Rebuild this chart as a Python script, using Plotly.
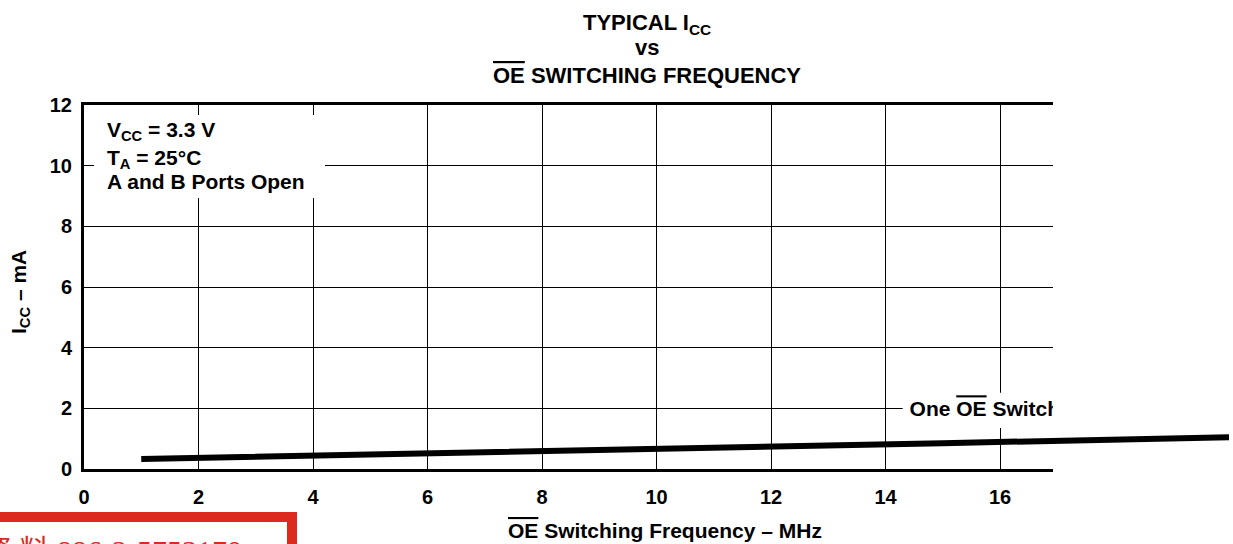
import plotly.graph_objects as go

# ---- data ----
freq_mhz = [1, 5, 10, 15, 20]
icc_ma = [0.33, 0.47, 0.66, 0.85, 1.05]
x_ticks = [0, 2, 4, 6, 8, 10, 12, 14, 16]
y_ticks = [0, 2, 4, 6, 8, 10, 12]
series_label = "One <span style='text-decoration:overline'>OE</span> Switching"
cond_lines = ["V<sub>CC</sub> = 3.3 V", "T<sub>A</sub> = 25°C", "A and B Ports Open"]

FONT = "Liberation Sans, Arial, sans-serif"
W, H = 1233, 544
ML, MR, MT, MB = 84, 0, 105, 75
PW = W - ML - MR
PX_PER_X = 57.25
X_VISIBLE = 969 / PX_PER_X
X_FULL = PW / PX_PER_X

fig = go.Figure()

# main curve on a wide invisible x axis (extends beyond the framed grid)
fig.add_trace(go.Scatter(
    x=freq_mhz, y=icc_ma, mode="lines", xaxis="x2", yaxis="y2",
    line=dict(color="black", width=6), showlegend=False, hoverinfo="skip"))

# series label (clipped at the framed grid edge)
fig.add_trace(go.Scatter(
    x=[14.42], y=[1.91], mode="text", text=[series_label],
    textposition="middle right", cliponaxis=True, xaxis="x", yaxis="y",
    textfont=dict(family=FONT, size=21, color="black", weight="bold"),
    showlegend=False, hoverinfo="skip"))

axis_common = dict(
    showline=True, linecolor="black", linewidth=3,
    showgrid=True, gridcolor="black", gridwidth=1, zeroline=False,
    ticks="inside", ticklen=10, tickwidth=1, tickcolor="black",
    tickfont=dict(family=FONT, size=20, color="black", weight="bold"),
)

fig.update_layout(
    width=W, height=H, autosize=False,
    margin=dict(l=ML, r=MR, t=MT, b=MB),
    paper_bgcolor="white", plot_bgcolor="rgba(0,0,0,0)",
    xaxis=dict(domain=[0, 969 / PW], range=[0, X_VISIBLE], tickmode="array",
               tickvals=x_ticks, mirror="allticks", ticklabelstandoff=8, **axis_common),
    xaxis2=dict(domain=[0, 1], range=[0, X_FULL], anchor="y2", visible=False),
    yaxis=dict(domain=[0, 1], range=[0, 12], tickmode="array", tickvals=y_ticks,
               ticklabelstandoff=5, **axis_common),
    yaxis2=dict(domain=[0, 1], range=[0, 12], anchor="x2", visible=False),
)

# white boxes behind the text blocks (hide grid lines)
fig.add_shape(type="rect", xref="x", yref="y", x0=0.04, x1=4.21, y0=8.93, y1=11.9,
              fillcolor="white", line=dict(width=0), layer="between")
fig.add_shape(type="rect", xref="x", yref="y", x0=14.3, x1=17.5, y0=1.35, y1=2.51,
              fillcolor="white", line=dict(width=0), layer="between")

# condition text
for txt, yy in zip(cond_lines, [11.15, 10.22, 9.47]):
    fig.add_annotation(x=0.37, y=yy, xref="x", yref="y", text=txt, showarrow=False,
                       xanchor="left", yanchor="middle", align="left",
                       font=dict(family=FONT, size=21, color="black", weight="bold"))

# title
title_lines = ["TYPICAL I<sub>CC</sub>", "vs",
               "<span style='text-decoration:overline'>OE</span> SWITCHING FREQUENCY"]
for txt, py in zip(title_lines, [24, 48, 75]):
    fig.add_annotation(x=9.83, y=(469 - py) / 364, xref="x2", yref="paper", text=txt,
                       showarrow=False, xanchor="center", yanchor="middle",
                       font=dict(family=FONT, size=22, color="black", weight="bold"))

# axis titles
fig.add_annotation(x=10.14, y=(469 - 530) / 364, xref="x2", yref="paper",
                   text="<span style='text-decoration:overline'>OE</span> Switching Frequency – MHz",
                   showarrow=False, xanchor="center", yanchor="middle",
                   font=dict(family=FONT, size=21, color="black", weight="bold"))
fig.add_annotation(x=(20 - ML) / PW, y=(469 - 292) / 364, xref="paper", yref="paper",
                   text="I<sub>CC</sub> – mA", textangle=-90, showarrow=False,
                   xanchor="center", yanchor="middle",
                   font=dict(family=FONT, size=21, color="black", weight="bold"))

# red stamp box at bottom-left
fig.add_shape(type="rect", xref="paper", yref="paper",
              x0=(-10 - ML) / PW, x1=(292 - ML) / PW,
              y0=(469 - 517) / 364, y1=(469 - 580) / 364,
              line=dict(color="#dc2a1e", width=10), fillcolor="white", layer="above")
fig.add_annotation(x=(244 - ML) / PW, y=(469 - 532) / 364, xref="paper", yref="paper",
                   text="資 料 886-2-5753170", showarrow=False, xanchor="right", yanchor="top",
                   font=dict(family="Liberation Serif, Noto Sans CJK TC, serif", size=30,
                             color="#dc2a1e"))

fig.write_html("out.html", config={"displayModeBar": False},
               post_script="document.body.style.margin='0';")
